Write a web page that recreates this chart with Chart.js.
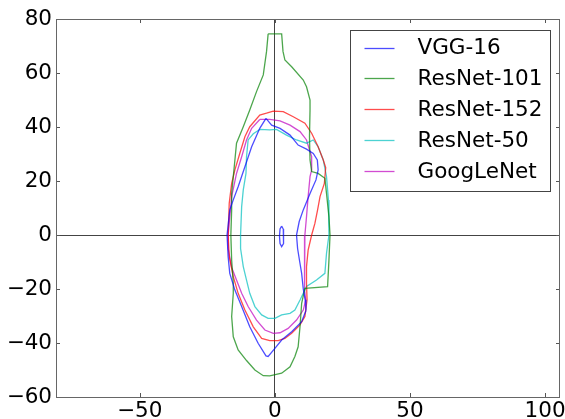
<!DOCTYPE html>
<html>
<head>
<meta charset="utf-8">
<script src="https://cdn.jsdelivr.net/npm/chart.js@4/dist/chart.umd.min.js"></script>
<style>
html,body{margin:0;padding:0;background:#fff;}
canvas{display:block;}
</style>
</head>
<body>
<canvas id="c" width="565" height="419"></canvas>
<script>
// ---- data ----
const seriesNames = ['VGG-16', 'ResNet-101', 'ResNet-152', 'ResNet-50', 'GoogLeNet'];
const xTicks = [-50, 0, 50, 100];
const yTicks = [-60, -40, -20, 0, 20, 40, 60, 80];

const vgg16 = [[-3.3,43.2],[-1.2,40.7],[1.9,39.5],[5.6,37],[8.6,33.3],[11.7,31.8],[14.2,30.2],[15.7,27.8],[16,24.1],[15.2,20.4],[13,15.4],[10.5,9.3],[9,5],[8,0],[8.4,-5],[9.2,-10],[9.9,-14.2],[10.5,-20],[11.2,-24],[11.5,-28],[9.9,-32.1],[6.2,-35.8],[2.5,-38.9],[0,-42],[-2.5,-45],[-3.3,-44.8],[-6.2,-40.1],[-9.3,-34],[-12.3,-26.5],[-14.8,-20.4],[-16.7,-14.2],[-17.3,-8],[-17.7,0],[-16.7,9.3],[-15.4,13],[-13.6,17.9],[-11.1,25.3],[-8.6,32.7],[-5.6,39.5],[-3.3,43.2]];
const vgg16Island = [[2.5,3.3],[3.1,2.2],[3.3,-0.5],[3.1,-3.2],[2.5,-4.3],[1.9,-3.2],[1.7,-0.5],[1.9,2.2],[2.5,3.3]];
const resnet101 = [[-2.5,74.5],[2.5,74.5],[3,68],[3.7,64.8],[6.2,62.3],[10.5,57.4],[11.7,54.9],[13,50],[13,46.3],[12.8,36.4],[13,27.8],[13.6,23.5],[16,22.8],[18.5,21],[19.1,15.4],[20,6.8],[20.4,0],[20,-9.3],[19.5,-19.1],[11.1,-19.8],[9.9,-25.3],[9.3,-33.9],[8.6,-41.4],[7.4,-45],[5.6,-48.8],[2.5,-51.2],[-1.9,-52.2],[-4.3,-52.1],[-7.4,-50],[-10.5,-46.5],[-13.6,-42.6],[-15.4,-37.7],[-16,-30.2],[-15.4,-21.6],[-15.4,-17.9],[-16,-9.3],[-16.3,0],[-16,9.3],[-16,15.4],[-15.4,21.6],[-14.8,27.8],[-14.2,34],[-11.7,40.1],[-9.3,46.3],[-6.8,53.1],[-4.3,59.3],[-3.1,67.9],[-2.5,74.5]];
const resnet152 = [[-3.1,45.1],[-0.6,45.9],[3.1,45.7],[6.8,43.8],[11.1,41.4],[13.6,37.7],[16,32.7],[17.9,27.8],[18.8,25],[18.3,19.1],[16.7,14.2],[15.8,9.3],[14.8,4.3],[13.6,0],[12.3,-5.6],[11.7,-11.7],[11.7,-17.9],[11.9,-24],[11.1,-30.2],[9.3,-33.3],[6.2,-36.4],[3.7,-38.3],[1.2,-39.1],[-1.9,-39.1],[-4.9,-38.3],[-8,-34],[-11.1,-27.8],[-13.6,-21.6],[-15.4,-15.4],[-16.9,-8],[-17.3,0],[-16.9,11.7],[-16,19.1],[-14.8,24.1],[-13,30.2],[-11.1,36.4],[-9.3,40.1],[-5.6,44.4],[-3.1,45.1]];
const resnet50 = [[-5.6,39.1],[-1.9,38.9],[0.6,39.1],[4.3,37],[8,35.2],[11.7,34],[14.2,35.2],[16,32.7],[17.9,27.8],[19.1,21.6],[19.8,13],[20,6],[20,0],[19.1,-6.8],[18.5,-14.2],[15.4,-16.7],[11.7,-19.1],[9.3,-24.1],[7.4,-27.8],[5.6,-29],[2.5,-29.6],[0,-30.9],[-2.5,-30.9],[-4.9,-29.6],[-7.4,-26.5],[-9.3,-21.6],[-10.5,-16.7],[-11.7,-11.7],[-12.7,-5],[-12.7,0],[-12.3,10.5],[-11.7,16.7],[-10.7,22.8],[-10.5,29],[-9.9,35.2],[-8,37.5],[-5.6,39.1]];
const googlenet = [[-5.6,42.8],[-1.9,42.8],[1.9,42.3],[5.6,40.7],[9.3,38.3],[11.7,35.2],[13.6,29],[13.6,24.1],[13,21.6],[12.3,14.2],[11.7,6.8],[11.1,0],[10.9,-8],[10.9,-15.4],[11.1,-20.4],[11.4,-24.1],[10.5,-27.8],[8,-31.5],[4.9,-34.6],[1.9,-36.2],[-0.6,-36.4],[-3.7,-35.2],[-6.8,-31.5],[-9.9,-26.5],[-12.3,-21.6],[-14.2,-16.7],[-16,-12],[-17.3,-5],[-17.3,0],[-16,14.2],[-14.2,22.8],[-12.3,29],[-10.5,35.2],[-8.6,39.5],[-5.6,42.8]];

// ---- styling ----
const colors = {
  'VGG-16': 'rgba(0,0,255,0.7)',
  'ResNet-101': 'rgba(0,128,0,0.7)',
  'ResNet-152': 'rgba(255,0,0,0.7)',
  'ResNet-50': 'rgba(0,191,191,0.7)',
  'GoogLeNet': 'rgba(191,0,191,0.7)'
};
const toPts = arr => arr.map(p => ({x: p[0], y: p[1]}));
const mk = (label, arr, inLegend) => ({
  label: label,
  data: toPts(arr),
  showLine: true,
  borderColor: colors[label],
  backgroundColor: colors[label],
  borderWidth: 1.3,
  pointRadius: 0,
  pointHoverRadius: 0,
  tension: 0,
  fill: false,
  inLegend: inLegend
});
const datasets = [
  mk('VGG-16', vgg16, true),
  mk('VGG-16', vgg16Island, false),
  mk('ResNet-101', resnet101, true),
  mk('ResNet-152', resnet152, true),
  mk('ResNet-50', resnet50, true),
  mk('GoogLeNet', googlenet, true)
];

const FONT = 'DejaVu Sans';
const FSIZE = 21.5;
const fmt = v => String(v).replace('-', '\u2212');

const framePlugin = {
  id: 'frame',
  afterDatasetsDraw(chart) {
    const {ctx, chartArea: a, scales} = chart;
    ctx.save();
    ctx.strokeStyle = '#555';
    ctx.lineWidth = 1;
    ctx.beginPath();
    const L = 4;
    xTicks.forEach(v => {
      const p = Math.round(scales.x.getPixelForValue(v)) + 0.5;
      ctx.moveTo(p, a.bottom); ctx.lineTo(p, a.bottom - L);
      ctx.moveTo(p, a.top); ctx.lineTo(p, a.top + L);
    });
    yTicks.forEach(v => {
      const p = Math.round(scales.y.getPixelForValue(v)) + 0.5;
      ctx.moveTo(a.left, p); ctx.lineTo(a.left + L, p);
      ctx.moveTo(a.right, p); ctx.lineTo(a.right - L, p);
    });
    ctx.stroke();
    ctx.strokeStyle = '#666';
    ctx.strokeRect(Math.round(a.left) + 0.5, Math.round(a.top) + 0.5, Math.round(a.right - a.left) - 1, Math.round(a.bottom - a.top));
    // legend box
    const items = chart.data.datasets.filter(d => d.inLegend);
    const bx = Math.round(a.right) - 209.5, by = Math.round(a.top) + 11.5, bw = 200, bh = 161;
    ctx.fillStyle = '#fff';
    ctx.fillRect(bx, by, bw, bh);
    ctx.strokeStyle = '#444';
    ctx.strokeRect(bx, by, bw, bh);
    ctx.font = FSIZE + 'px "' + FONT + '"';
    ctx.textBaseline = 'middle';
    ctx.textAlign = 'left';
    items.forEach((d, i) => {
      const y = by + 17 + i * 30.9;
      ctx.strokeStyle = d.borderColor;
      ctx.lineWidth = 1.3;
      ctx.beginPath();
      ctx.moveTo(bx + 14, Math.round(y) + 0.5);
      ctx.lineTo(bx + 44, Math.round(y) + 0.5);
      ctx.stroke();
      ctx.fillStyle = '#000';
      ctx.fillText(d.label, bx + 67, y + 1);
    });
    ctx.restore();
  }
};

new Chart(document.getElementById('c'), {
  type: 'scatter',
  data: { datasets: datasets },
  options: {
    responsive: false,
    devicePixelRatio: 1,
    animation: false,
    events: [],
    layout: { padding: { top: 19, right: 5, left: 0, bottom: 0 } },
    plugins: { legend: { display: false }, tooltip: { enabled: false } },
    scales: {
      x: {
        type: 'linear',
        min: -81,
        max: 105.5,
        afterBuildTicks: s => { s.ticks = xTicks.map(v => ({value: v})); },
        afterFit: s => { s.height = 22; s.paddingLeft = 0; s.paddingRight = 0; },
        ticks: { color: '#000', font: { family: FONT, size: FSIZE }, padding: 2, maxRotation: 0, autoSkip: false, callback: v => fmt(v) },
        grid: { drawTicks: false, lineWidth: 1, color: c => (c.tick && c.tick.value === 0) ? '#444' : 'rgba(0,0,0,0)' },
        border: { display: false }
      },
      y: {
        type: 'linear',
        min: -60,
        max: 80,
        afterBuildTicks: s => { s.ticks = yTicks.map(v => ({value: v})); },
        afterFit: s => { s.width = 56; s.paddingTop = 0; s.paddingBottom = 0; },
        ticks: { color: '#000', font: { family: FONT, size: FSIZE }, padding: 4, autoSkip: false, callback: v => fmt(v) },
        grid: { drawTicks: false, lineWidth: 1, color: c => (c.tick && c.tick.value === 0) ? '#444' : 'rgba(0,0,0,0)' },
        border: { display: false }
      }
    }
  },
  plugins: [framePlugin]
});
</script>
</body>
</html>
